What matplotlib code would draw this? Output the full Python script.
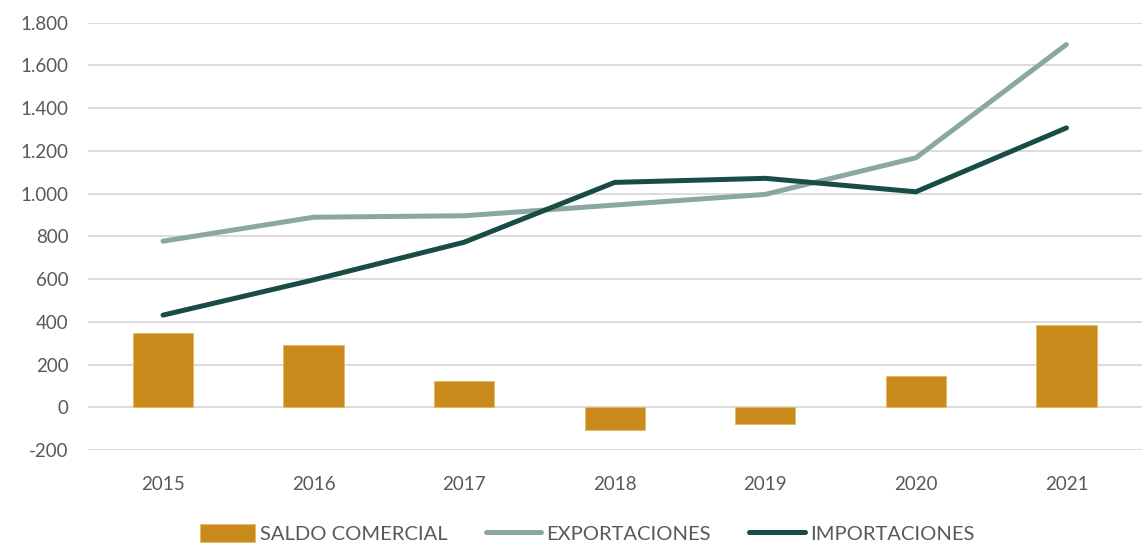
import matplotlib.pyplot as plt
import numpy as np

years = ["2015", "2016", "2017", "2018", "2019", "2020", "2021"]
saldo = [346, 293, 124, -106, -78, 148, 385]
exportaciones = [777, 889, 896, 946, 996, 1167, 1697]
importaciones = [431, 596, 772, 1052, 1071, 1008, 1307]
y_ticks = [-200, 0, 200, 400, 600, 800, 1000, 1200, 1400, 1600, 1800]

plt.rcParams['font.family'] = ['Lato', 'DejaVu Sans']
text_color = '#595959'

fig = plt.figure(figsize=(11.44, 5.45), dpi=100)
ax = fig.add_axes([0.0767, 0.1743, 0.9213, 0.7844])

x = np.arange(len(years))
bars = ax.bar(x, saldo, width=0.4, color='#C98C1C', edgecolor='#E3B766', linewidth=0.6,
              label='SALDO COMERCIAL', zorder=2)
l_exp, = ax.plot(x, exportaciones, color='#8BA8A0', lw=3.6, solid_capstyle='round',
                 label='EXPORTACIONES', zorder=3)
l_imp, = ax.plot(x, importaciones, color='#184D45', lw=3.6, solid_capstyle='round',
                 label='IMPORTACIONES', zorder=4)

ax.set_xlim(-0.5, len(years) - 0.5)
ax.set_ylim(-200, 1800)
ax.set_yticks(y_ticks)
ax.set_yticklabels([f"{v:,}".replace(",", ".") for v in y_ticks])
ax.set_xticks(x)
ax.set_xticklabels(years)
ax.tick_params(axis='both', length=0, labelsize=13.5, colors=text_color)
ax.tick_params(axis='x', pad=19)
ax.tick_params(axis='y', pad=14)
ax.grid(axis='y', color='#D9D9D9', lw=1.3, zorder=0)
ax.set_axisbelow(True)
for s in ax.spines.values():
    s.set_visible(False)

leg = fig.legend([bars, l_exp, l_imp], ['SALDO COMERCIAL', 'EXPORTACIONES', 'IMPORTACIONES'],
                 loc='lower center', bbox_to_anchor=(0.513, -0.03), ncol=3,
                 frameon=False, fontsize=14.5, handlelength=2.75, handleheight=1.0,
                 handletextpad=0.25, columnspacing=1.9)
for t in leg.get_texts():
    t.set_color(text_color)

fig.savefig('out.png', dpi=100)
